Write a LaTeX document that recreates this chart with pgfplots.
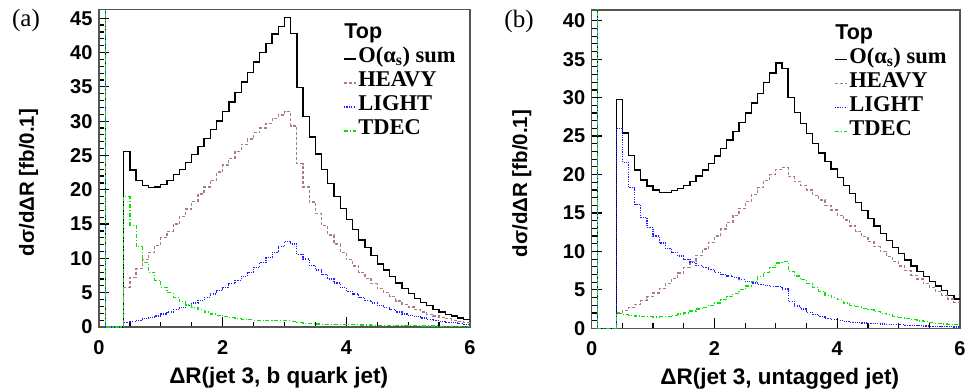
\documentclass[border=0pt]{standalone}
\usepackage{fontspec}
\setmainfont{Liberation Sans}
\newfontfamily\rootserif{Liberation Serif}
\newfontfamily\rootsans{Liberation Sans}
\usepackage{pgfplots}
\pgfplotsset{compat=1.18}
\usepackage{pgfplotstable}
\definecolor{heavyc}{RGB}{172,122,128}
\definecolor{lightc}{RGB}{30,30,255}
\definecolor{tdecc}{RGB}{0,230,0}
\definecolor{framec}{RGB}{85,85,85}

\pgfplotstableread{
x sum heavy light tdec
0.0 100 100 100 100
0.1 0 0 0 0
0.2 0 0 0 0
0.3 0 0 0 0
0.4 25.6 5.8 0.6 19.0
0.5 22.9 7.2 0.8 14.8
0.6 21.3 8.5 1.0 11.7
0.7 20.6 9.8 1.2 9.4
0.8 20.3 10.9 1.4 8.0
0.9 20.4 11.9 1.6 6.8
1.0 20.8 13.0 1.9 5.8
1.1 21.4 13.9 2.2 5.0
1.2 22.2 15.0 2.5 4.3
1.3 23.0 16.1 2.8 3.7
1.4 24.0 17.2 3.1 3.2
1.5 25.1 18.3 3.5 2.8
1.6 26.3 19.4 3.9 2.5
1.7 27.5 20.4 4.3 2.2
1.8 28.8 21.4 4.8 1.9
1.9 30.0 22.6 5.3 1.7
2.0 31.4 23.6 5.8 1.5
2.1 32.8 24.6 6.3 1.35
2.2 34.2 25.6 6.8 1.2
2.3 35.7 26.6 7.4 1.1
2.4 37.1 27.4 8.0 1.05
2.5 38.6 28.3 8.7 1.0
2.6 40.0 29.0 9.4 0.95
2.7 41.3 29.7 10.1 0.92
2.8 42.7 30.4 10.9 0.9
2.9 43.8 30.9 11.7 0.9
3.0 45.1 31.4 12.5 0.9
3.1 42.8 29.3 12.1 0.85
3.2 34.9 23.8 10.6 0.65
3.3 30.7 20.4 9.9 0.55
3.4 27.7 18.2 9.0 0.5
3.5 25.2 16.5 8.3 0.45
3.6 23.0 14.8 7.6 0.42
3.7 20.9 13.4 7.0 0.4
3.8 19.0 12.1 6.4 0.38
3.9 17.3 10.9 5.8 0.36
4.0 15.7 9.8 5.2 0.34
4.1 14.2 8.9 4.8 0.32
4.2 12.7 7.9 4.3 0.3
4.3 11.6 7.1 3.9 0.28
4.4 10.4 6.3 3.5 0.26
4.5 9.2 5.6 3.1 0.25
4.6 8.3 5.0 2.8 0.23
4.7 7.4 4.4 2.5 0.22
4.8 6.4 3.8 2.2 0.2
4.9 5.6 3.3 1.9 0.19
5.0 4.9 2.9 1.7 0.18
5.1 4.2 2.5 1.5 0.17
5.2 3.6 2.2 1.3 0.16
5.3 3.1 1.85 1.1 0.15
5.4 2.6 1.6 0.9 0.14
5.5 2.2 1.4 0.8 0.13
5.6 1.8 1.2 0.7 0.12
5.7 1.6 1.0 0.6 0.11
5.8 1.3 0.85 0.5 0.1
5.9 1.1 0.7 0.4 0.1
6.0 1.1 0.7 0.4 0.1
}\tabA

\pgfplotstableread{
x sum heavy light tdec
0.0 100 100 100 100
0.1 0 0 0 0
0.2 0 0 0 0
0.3 0 0 0 0
0.4 29.8 2.0 26.0 1.95
0.5 25.4 2.3 21.6 1.8
0.6 22.5 2.7 18.3 1.7
0.7 20.6 3.1 16.1 1.6
0.8 19.3 3.6 14.4 1.5
0.9 18.5 4.1 13.1 1.5
1.0 18.0 4.6 12.0 1.47
1.1 17.7 5.2 11.1 1.5
1.2 17.7 5.8 10.4 1.55
1.3 17.9 6.5 9.9 1.7
1.4 18.2 7.2 9.4 1.85
1.5 18.6 7.9 9.0 2.0
1.6 19.1 8.7 8.6 2.25
1.7 19.8 9.5 8.2 2.5
1.8 20.6 10.3 7.9 2.75
1.9 21.4 11.2 7.6 3.0
2.0 22.4 12.0 7.3 3.3
2.1 23.4 12.9 7.0 3.7
2.2 24.5 13.8 6.8 4.1
2.3 25.6 14.7 6.6 4.5
2.4 26.8 15.6 6.3 5.0
2.5 28.0 16.5 6.1 5.5
2.6 29.3 17.4 5.9 6.1
2.7 30.5 18.3 5.7 6.7
2.8 32.0 19.2 5.6 7.3
2.9 33.2 20.0 5.4 7.9
3.0 34.5 20.7 5.4 8.5
3.1 33.8 20.9 5.1 8.7
3.2 30.0 19.7 3.5 7.4
3.3 28.1 19.1 2.9 6.8
3.4 26.6 18.6 2.5 6.3
3.5 25.3 18.0 2.1 5.8
3.6 24.0 17.3 1.8 5.3
3.7 22.8 16.7 1.5 4.8
3.8 21.7 16.0 1.3 4.3
3.9 20.7 15.4 1.15 4.0
4.0 19.6 14.7 1.0 3.7
4.1 18.6 14.1 0.9 3.3
4.2 17.5 13.3 0.8 3.0
4.3 16.4 12.6 0.75 2.8
4.4 15.3 11.9 0.7 2.6
4.5 14.3 11.3 0.65 2.4
4.6 13.3 10.6 0.6 2.2
4.7 12.3 10.0 0.55 1.95
4.8 11.4 9.3 0.5 1.75
4.9 10.5 8.7 0.48 1.55
5.0 9.7 8.1 0.45 1.4
5.1 8.9 7.5 0.4 1.25
5.2 8.1 6.9 0.37 1.1
5.3 7.4 6.4 0.34 0.95
5.4 6.7 5.8 0.3 0.85
5.5 6.1 5.3 0.28 0.75
5.6 5.5 4.8 0.25 0.65
5.7 4.9 4.3 0.22 0.55
5.8 4.3 3.8 0.2 0.5
5.9 3.8 3.4 0.18 0.45
6.0 3.8 3.4 0.18 0.45
}\tabB

\pgfplotsset{
  rootaxis/.style={
    scale only axis,
    xmin=0, xmax=6, ymin=0,
    axis line style={framec, line width=1.1pt},
    tick style={black, line width=1.2pt},
    xtick={0,2,4,6}, minor x tick num=3,
    ytick distance=5, minor y tick num=4,
    xtick pos=bottom, ytick pos=left, tick align=inside,
    major tick length=10pt, minor tick length=5pt,
    /pgf/number format/assume math mode=true,
    tick label style={font=\bfseries\fontsize{20}{24}\selectfont},
    yticklabel style={xshift=-3pt},
    xticklabel style={yshift=-10pt},
    xlabel style={font=\bfseries\fontsize{22.5}{26}\selectfont},
    ylabel style={font=\bfseries\fontsize{20.5}{24}\selectfont,
      at={(axis description cs:-0.19,0.455)}, rotate=0, anchor=center},
    ylabel={dσ/dΔR [fb/0.1]},
    legend style={at={(axis description cs:0.658,0.958)}, anchor=north west,
      draw=none, fill=none, inner sep=0pt,
      font=\rootserif\bfseries\fontsize{22.5}{24}\selectfont,
      row sep=0pt,
      nodes={inner xsep=1.5pt, inner ysep=0pt, text height=16pt, text depth=8pt}},
    legend cell align=left,
    legend image code/.code={\draw[##1, line width=1.5pt] (0pt,0pt) -- (12pt,0pt);},
  },
  hsum/.style={const plot mark left, black, line width=1.3pt},
  hheavy/.style={const plot mark left, heavyc, line width=1.25pt, dash pattern=on 3pt off 2pt},
  hlight/.style={const plot mark left, lightc, line width=1.2pt, dash pattern=on 1.2pt off 1.2pt},
  htdec/.style={const plot mark left, tdecc, line width=1.2pt, dash pattern=on 4pt off 2pt on 1pt off 2pt},
}

\begin{document}
\begin{tikzpicture}
\useasboundingbox (0,0) rectangle (969pt,391pt);
\node[font=\rootserif\fontsize{25}{28}\selectfont] at (26pt,371pt) {(a)};
\node[font=\rootserif\fontsize{25}{28}\selectfont] at (519pt,370pt) {(b)};
\begin{axis}[rootaxis, at={(99pt,64pt)}, anchor=south west,
  width=371pt, height=317.7pt, ymax=46.3,
  xlabel style={at={(axis description cs:0.18,-0.16)}, anchor=west},
  xlabel={ΔR(jet 3, b quark jet)}]
\addlegendimage{empty legend}
\addlegendentry{\hspace*{-14pt}\rootsans\bfseries\fontsize{21.5}{24}\selectfont Top}
\addplot[hsum] table[x=x,y=sum] {\tabA};
\addlegendentry{O(α\textsubscript{s}) sum}
\addplot[hheavy] table[x=x,y=heavy] {\tabA};
\addlegendentry{HEAVY}
\addplot[hlight] table[x=x,y=light] {\tabA};
\addlegendentry{LIGHT}
\addplot[htdec] table[x=x,y=tdec] {\tabA};
\addlegendentry{TDEC}
\end{axis}
\begin{axis}[rootaxis, at={(591.7pt,62.7pt)}, anchor=south west,
  width=368.3pt, height=318.3pt, ymax=41.4,
  xlabel style={at={(axis description cs:0.177,-0.16)}, anchor=west},
  xlabel={ΔR(jet 3, untagged jet)}]
\addlegendimage{empty legend}
\addlegendentry{\hspace*{-14pt}\rootsans\bfseries\fontsize{21.5}{24}\selectfont Top}
\addplot[hsum] table[x=x,y=sum] {\tabB};
\addlegendentry{O(α\textsubscript{s}) sum}
\addplot[hheavy] table[x=x,y=heavy] {\tabB};
\addlegendentry{HEAVY}
\addplot[hlight] table[x=x,y=light] {\tabB};
\addlegendentry{LIGHT}
\addplot[htdec] table[x=x,y=tdec] {\tabB};
\addlegendentry{TDEC}
\end{axis}
\end{tikzpicture}
\end{document}
